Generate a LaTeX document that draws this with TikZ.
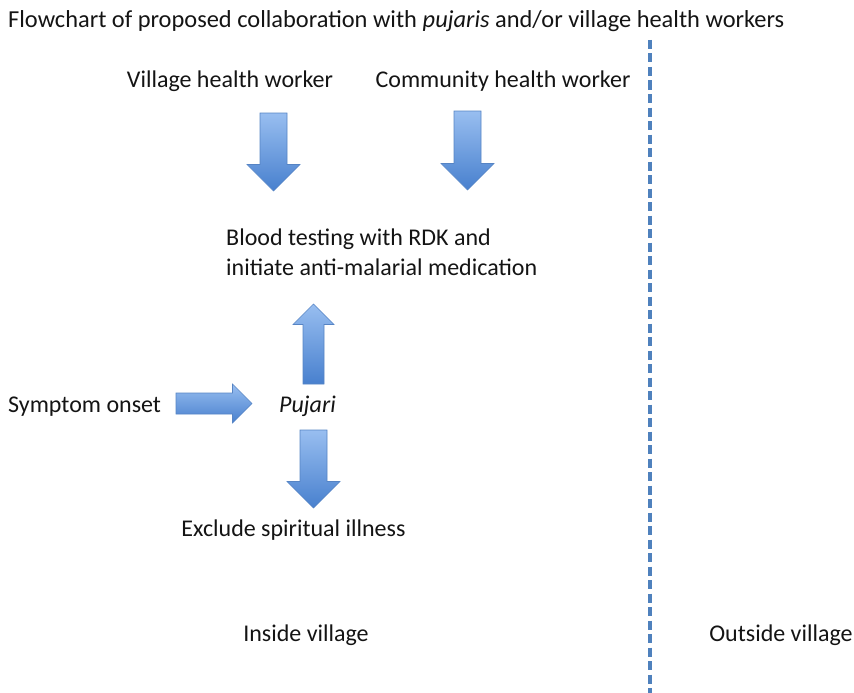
\documentclass[tikz,border=0pt]{standalone}
\usepackage{fontspec}
\setmainfont{Carlito}
\definecolor{txt}{RGB}{20,20,20}
\definecolor{alight}{RGB}{152,190,240}
\definecolor{adark}{RGB}{72,128,206}
\definecolor{aline}{RGB}{86,132,196}
\definecolor{divline}{RGB}{79,129,189}
\tikzset{
  lbl/.style={inner sep=0pt, text=txt, font=\fontsize{24}{30}\selectfont},
  blockarrow/.style={top color=alight, bottom color=adark, draw=aline, line width=0.6pt, line join=miter},
  divider/.style={draw=divline, line width=3.2pt, dash pattern=on 9pt off 4.5pt}
}
\begin{document}
\begin{tikzpicture}[x=1pt,y=-1pt]
\useasboundingbox (0,0) rectangle (854,693);
% texts
\node[lbl, anchor=base west, font=\fontsize{24.4}{30}\selectfont] (title) at (8,28) {Flowchart of proposed collaboration with \textit{pujaris} and/or village health workers};
\node[lbl, anchor=base] (vhw) at (230,88) {Village health worker};
\node[lbl, anchor=base] (chw) at (503,88) {Community health worker};
\node[lbl, anchor=base west] (blood1) at (226,245) {Blood testing with RDK and};
\node[lbl, anchor=base west] (blood2) at (226,275) {initiate anti-malarial medication};
\node[lbl, anchor=base west] (onset) at (8,412) {Symptom onset};
\node[lbl, anchor=base west] (pujari) at (279,412) {\textit{Pujari}};
\node[lbl, anchor=base] (excl) at (293.5,536) {Exclude spiritual illness};
\node[lbl, anchor=base] (inside) at (306,641) {Inside village};
\node[lbl, anchor=base] (outside) at (781,641) {Outside village};
% block arrows
\path[blockarrow] (260,113) -- (287,113) -- (287,164.5) -- (300,164.5) -- (273.5,191) -- (247,164.5) -- (260,164.5) -- cycle;
\path[blockarrow] (454,111) -- (481,111) -- (481,163.5) -- (494,163.5) -- (467.5,190) -- (441,163.5) -- (454,163.5) -- cycle;
\path[blockarrow] (303,384) -- (324,384) -- (324,324.5) -- (334,324.5) -- (313.5,304) -- (293,324.5) -- (303,324.5) -- cycle;
\path[blockarrow] (176,393) -- (232.5,393) -- (232.5,384) -- (252,403.5) -- (232.5,423) -- (232.5,414) -- (176,414) -- cycle;
\path[blockarrow] (300,430) -- (327,430) -- (327,481.5) -- (340,481.5) -- (313.5,508) -- (287,481.5) -- (300,481.5) -- cycle;
% divider
\coordinate (dtop) at (650,40);
\coordinate (dbot) at (650,693);
\draw[divider] (dtop) -- (dbot);
\end{tikzpicture}
\end{document}
